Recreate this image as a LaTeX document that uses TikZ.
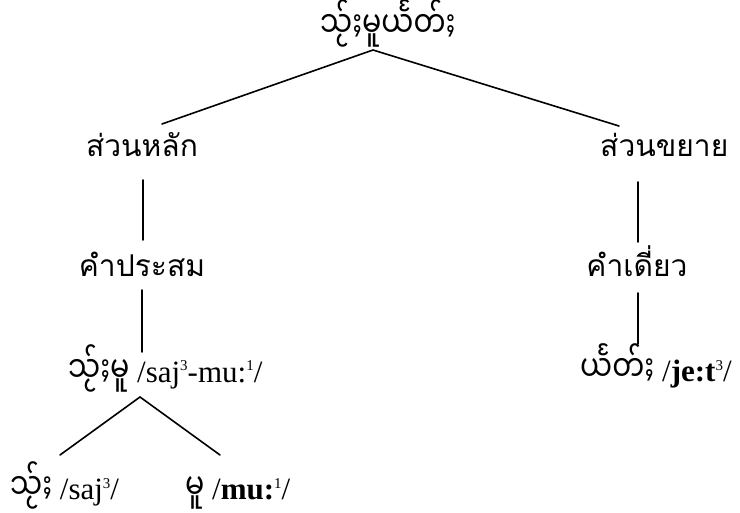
\documentclass[tikz,border=0pt]{standalone}
\usepackage{fontspec}
\usepackage{graphicx}
\setmainfont{Liberation Serif}
\newfontfamily\thaifont[Script=Thai]{Loma}
\newfontfamily\shanfont[Script=Myanmar]{Noto Sans Myanmar UI}
% Shan words: slightly tall setting
\newcommand{\shn}[1]{\scalebox{0.95}[1.2]{\shanfont\fontsize{30}{30}\selectfont #1}}
% small raised tone numbers
\newcommand{\tone}[1]{\raisebox{12pt}{\fontsize{15}{15}\selectfont #1}}
\begin{document}
\begin{tikzpicture}[x=1pt,y=-1pt,
  lbl/.style={inner sep=0pt,anchor=base},
  thai/.style={lbl,font=\thaifont\fontsize{30}{34}\selectfont},
  mixed/.style={lbl,anchor=base west,font=\fontsize{31}{34}\selectfont},
  branch/.style={line width=1.6pt,black,line cap=round}]
\useasboundingbox (0,0) rectangle (740,513);

% tree labels
\node[mixed] (root) at (320,38) {\shn{သႂ်ႈမူယႅတ်ႈ}};
\node[thai]  (L1) at (142,157) {ส่วนหลัก};
\node[thai,anchor=base west] (R1) at (600,157) {ส่วนขยาย};
\node[thai]  (L2) at (142,277) {คำประสม};
\node[thai]  (R2) at (637,277) {คำเดี่ยว};
\node[mixed] (L3) at (68,383) {\shn{သႂ်ႈမူ} /saj\tone{3}-mu:\tone{1}/};
\node[mixed] (R3) at (580,382) {\shn{ယႅတ်ႈ}\hspace{8pt}/\textbf{je:t}\tone{3}/};
\node[mixed] (L4a) at (10,500) {\shn{သႂ်ႈ} /saj\tone{3}/};
\node[mixed] (L4b) at (185,500) {\shn{မူ} /\textbf{mu:}\tone{1}/};

% branches
\draw[branch] ([shift={(20,-33)}]L1.base) -- ([shift={(53,12)}]root.base west)
              -- ([shift={(19,-31)}]R1.base west);
\draw[branch] ([shift={(1,23)}]L1.base) -- ([shift={(1,-37)}]L2.base);
\draw[branch] ([shift={(38,25)}]R1.base west) -- ([shift={(1,-35)}]R2.base);
\draw[branch] ([shift={(0,13)}]L2.base) -- ([shift={(74,-31)}]L3.base west);
\draw[branch] ([shift={(1,16)}]R2.base) -- ([shift={(58,-38)}]R3.base west);
\draw[branch] ([shift={(50,-45)}]L4a.base west) -- ([shift={(72,14)}]L3.base west)
              -- ([shift={(35,-45)}]L4b.base west);
\end{tikzpicture}
\end{document}
